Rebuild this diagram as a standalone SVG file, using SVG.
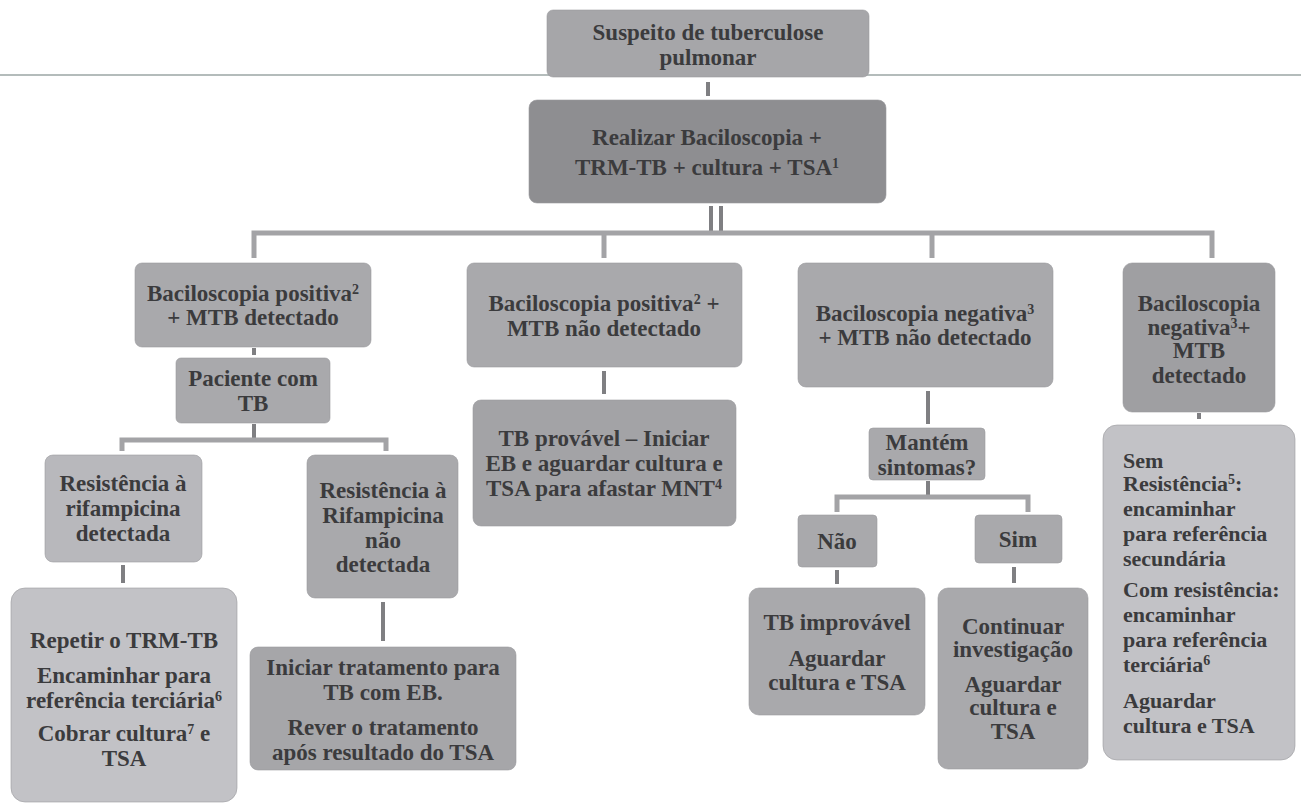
<svg xmlns="http://www.w3.org/2000/svg" width="1301" height="806" viewBox="0 0 1301 806">
<style>
  text { font-family: "Liberation Serif", "DejaVu Serif", "Noto Serif", "FreeSerif", "Tinos", "Times New Roman", Times, serif; font-weight: 700; font-size: 23px; fill: #3b3b3d; }
  .c { text-anchor: middle; }
  .l { text-anchor: start; font-size: 22px; }
  .sup { font-size: 14px; }
  .box { stroke: #9a9a9d; stroke-width: 0.6; }
  .mid { fill: #a9a9ac; }
  .dark { fill: #8e8e91; }
  .light { fill: #c2c2c6; }
  .lt2 { fill: #b8b8bc; }
  .conn line, .conn path { stroke: #7f7f82; fill: none; }
  .v { stroke-width: 4; }
  .h { stroke: #a3a3a6 !important; stroke-width: 5; }
</style>

<line x1="0" y1="75" x2="1301" y2="75" stroke="#b4bcbb" stroke-width="2"/>

<g id="connectors" class="conn">
  <line class="v" x1="708" y1="82" x2="708" y2="96"/>
  <line class="v" x1="711" y1="206" x2="711" y2="233"/>
  <line class="v" x1="721" y1="206" x2="721" y2="233"/>
  <path class="h" d="M254 258 V233 H1212 V258"/>
  <line class="h" x1="604" y1="233" x2="604" y2="258"/>
  <line class="h" x1="932" y1="233" x2="932" y2="258"/>
  <line class="v" x1="254" y1="348" x2="254" y2="355"/>
  <line class="v" x1="254" y1="424" x2="254" y2="440"/>
  <path class="h" d="M122 451 V440 H386 V451"/>
  <line class="v" x1="123" y1="565" x2="123" y2="583"/>
  <line class="v" x1="383" y1="602" x2="383" y2="641"/>
  <line class="v" x1="604" y1="371" x2="604" y2="394"/>
  <line class="v" x1="928" y1="391" x2="928" y2="424"/>
  <line class="v" x1="928" y1="481" x2="928" y2="497"/>
  <path class="h" d="M837 512 V497 H1028 V512"/>
  <line class="v" x1="837" y1="570" x2="837" y2="584"/>
  <line class="v" x1="1014" y1="567" x2="1014" y2="583"/>
  <line class="v" x1="1199" y1="413" x2="1199" y2="419"/>
</g>

<g id="n-suspeito">
  <rect class="box" x="547" y="10" width="322" height="67" rx="6" fill="#a6a6a9"/>
  <text class="c" x="708"><tspan x="708" y="40">Suspeito de tuberculose</tspan><tspan x="708" y="65">pulmonar</tspan></text>
</g>

<g id="n-realizar">
  <rect class="box dark" x="529" y="100" width="357" height="103" rx="8"/>
  <text class="c" x="707"><tspan x="707" y="145">Realizar Baciloscopia +</tspan><tspan x="707" y="175">TRM-TB + cultura + TSA<tspan class="sup" baseline-shift="super">1</tspan></tspan></text>
</g>

<g id="n-bpos-mtb">
  <rect class="box mid" x="135" y="263" width="236" height="84" rx="7"/>
  <text class="c" x="253"><tspan x="253" y="301">Baciloscopia positiva<tspan class="sup" baseline-shift="super">2</tspan></tspan><tspan x="253" y="325">+ MTB detectado</tspan></text>
</g>

<g id="n-paciente">
  <rect class="box mid" x="176" y="358" width="154" height="65" rx="5"/>
  <text class="c" x="253"><tspan x="253" y="386">Paciente com</tspan><tspan x="253" y="411">TB</tspan></text>
</g>

<g id="n-res-det">
  <rect class="box lt2" x="45" y="455" width="157" height="107" rx="8"/>
  <text class="c" x="123"><tspan x="123" y="491">Resistência à</tspan><tspan x="123" y="516">rifampicina</tspan><tspan x="123" y="541">detectada</tspan></text>
</g>

<g id="n-res-nao">
  <rect class="box mid" x="307" y="455" width="151" height="143" rx="8"/>
  <text class="c" x="383"><tspan x="383" y="498">Resistência à</tspan><tspan x="383" y="523">Rifampicina</tspan><tspan x="383" y="548">não</tspan><tspan x="383" y="572">detectada</tspan></text>
</g>

<g id="n-repetir">
  <rect class="box light" x="11" y="588" width="226" height="214" rx="14"/>
  <text class="c" x="124"><tspan x="124" y="648">Repetir o TRM-TB</tspan><tspan x="124" y="683">Encaminhar para</tspan><tspan x="124" y="708">referência terciária<tspan class="sup" baseline-shift="super">6</tspan></tspan><tspan x="124" y="741">Cobrar cultura<tspan class="sup" baseline-shift="super">7</tspan> e</tspan><tspan x="124" y="766">TSA</tspan></text>
</g>

<g id="n-iniciar">
  <rect class="box" x="250" y="647" width="266" height="123" rx="8" fill="#a6a6a9"/>
  <text class="c" x="383"><tspan x="383" y="675">Iniciar tratamento para</tspan><tspan x="383" y="700">TB com EB.</tspan><tspan x="383" y="735">Rever o tratamento</tspan><tspan x="383" y="760">após resultado do TSA</tspan></text>
</g>

<g id="n-bpos-nao">
  <rect class="box mid" x="467" y="263" width="275" height="104" rx="7"/>
  <text class="c" x="604"><tspan x="604" y="311">Baciloscopia positiva<tspan class="sup" baseline-shift="super">2</tspan> +</tspan><tspan x="604" y="336">MTB não detectado</tspan></text>
</g>

<g id="n-provavel">
  <rect class="box" x="473" y="400" width="263" height="126" rx="8" fill="#a3a3a6"/>
  <text class="c" x="604"><tspan x="604" y="446">TB provável – Iniciar</tspan><tspan x="604" y="471">EB e aguardar cultura e</tspan><tspan x="604" y="496">TSA para afastar MNT<tspan class="sup" baseline-shift="super">4</tspan></tspan></text>
</g>

<g id="n-bneg-nao">
  <rect class="box mid" x="798" y="263" width="255" height="124" rx="8"/>
  <text class="c" x="925"><tspan x="925" y="321">Baciloscopia negativa<tspan class="sup" baseline-shift="super">3</tspan></tspan><tspan x="925" y="345">+ MTB não detectado</tspan></text>
</g>

<g id="n-mantem">
  <rect class="box mid" x="869" y="428" width="116" height="52" rx="4"/>
  <text class="c" x="927"><tspan x="927" y="450">Mantém</tspan><tspan x="927" y="475">sintomas?</tspan></text>
</g>

<g id="n-nao">
  <rect class="box mid" x="798" y="515" width="79" height="52" rx="4"/>
  <text class="c" x="837" y="549">Não</text>
</g>

<g id="n-sim">
  <rect class="box mid" x="975" y="515" width="87" height="48" rx="4"/>
  <text class="c" x="1018" y="547">Sim</text>
</g>

<g id="n-improvavel">
  <rect class="box mid" x="749" y="588" width="176" height="127" rx="10"/>
  <text class="c" x="837"><tspan x="837" y="630">TB improvável</tspan><tspan x="837" y="666">Aguardar</tspan><tspan x="837" y="690">cultura e TSA</tspan></text>
</g>

<g id="n-continuar">
  <rect class="box mid" x="938" y="588" width="150" height="181" rx="10"/>
  <text class="c" x="1013"><tspan x="1013" y="634">Continuar</tspan><tspan x="1013" y="657">investigação</tspan><tspan x="1013" y="692">Aguardar</tspan><tspan x="1013" y="715">cultura e</tspan><tspan x="1013" y="739">TSA</tspan></text>
</g>

<g id="n-bneg-mtb">
  <rect class="box" x="1123" y="263" width="152" height="149" rx="9" fill="#9f9fa2"/>
  <text class="c" x="1199"><tspan x="1199" y="311">Baciloscopia</tspan><tspan x="1199" y="335">negativa<tspan class="sup" baseline-shift="super">3</tspan>+</tspan><tspan x="1199" y="358">MTB</tspan><tspan x="1199" y="383">detectado</tspan></text>
</g>

<g id="n-sem">
  <rect class="box light" x="1103" y="425" width="192" height="335" rx="14"/>
  <text class="l" x="1123"><tspan x="1123" y="468">Sem</tspan><tspan x="1123" y="491">Resistência<tspan class="sup" baseline-shift="super">5</tspan>:</tspan><tspan x="1123" y="516">encaminhar</tspan><tspan x="1123" y="541">para referência</tspan><tspan x="1123" y="566">secundária</tspan><tspan x="1123" y="597">Com resistência:</tspan><tspan x="1123" y="622">encaminhar</tspan><tspan x="1123" y="647">para referência</tspan><tspan x="1123" y="672">terciária<tspan class="sup" baseline-shift="super">6</tspan></tspan><tspan x="1123" y="708">Aguardar</tspan><tspan x="1123" y="733">cultura e TSA</tspan></text>
</g>
</svg>
